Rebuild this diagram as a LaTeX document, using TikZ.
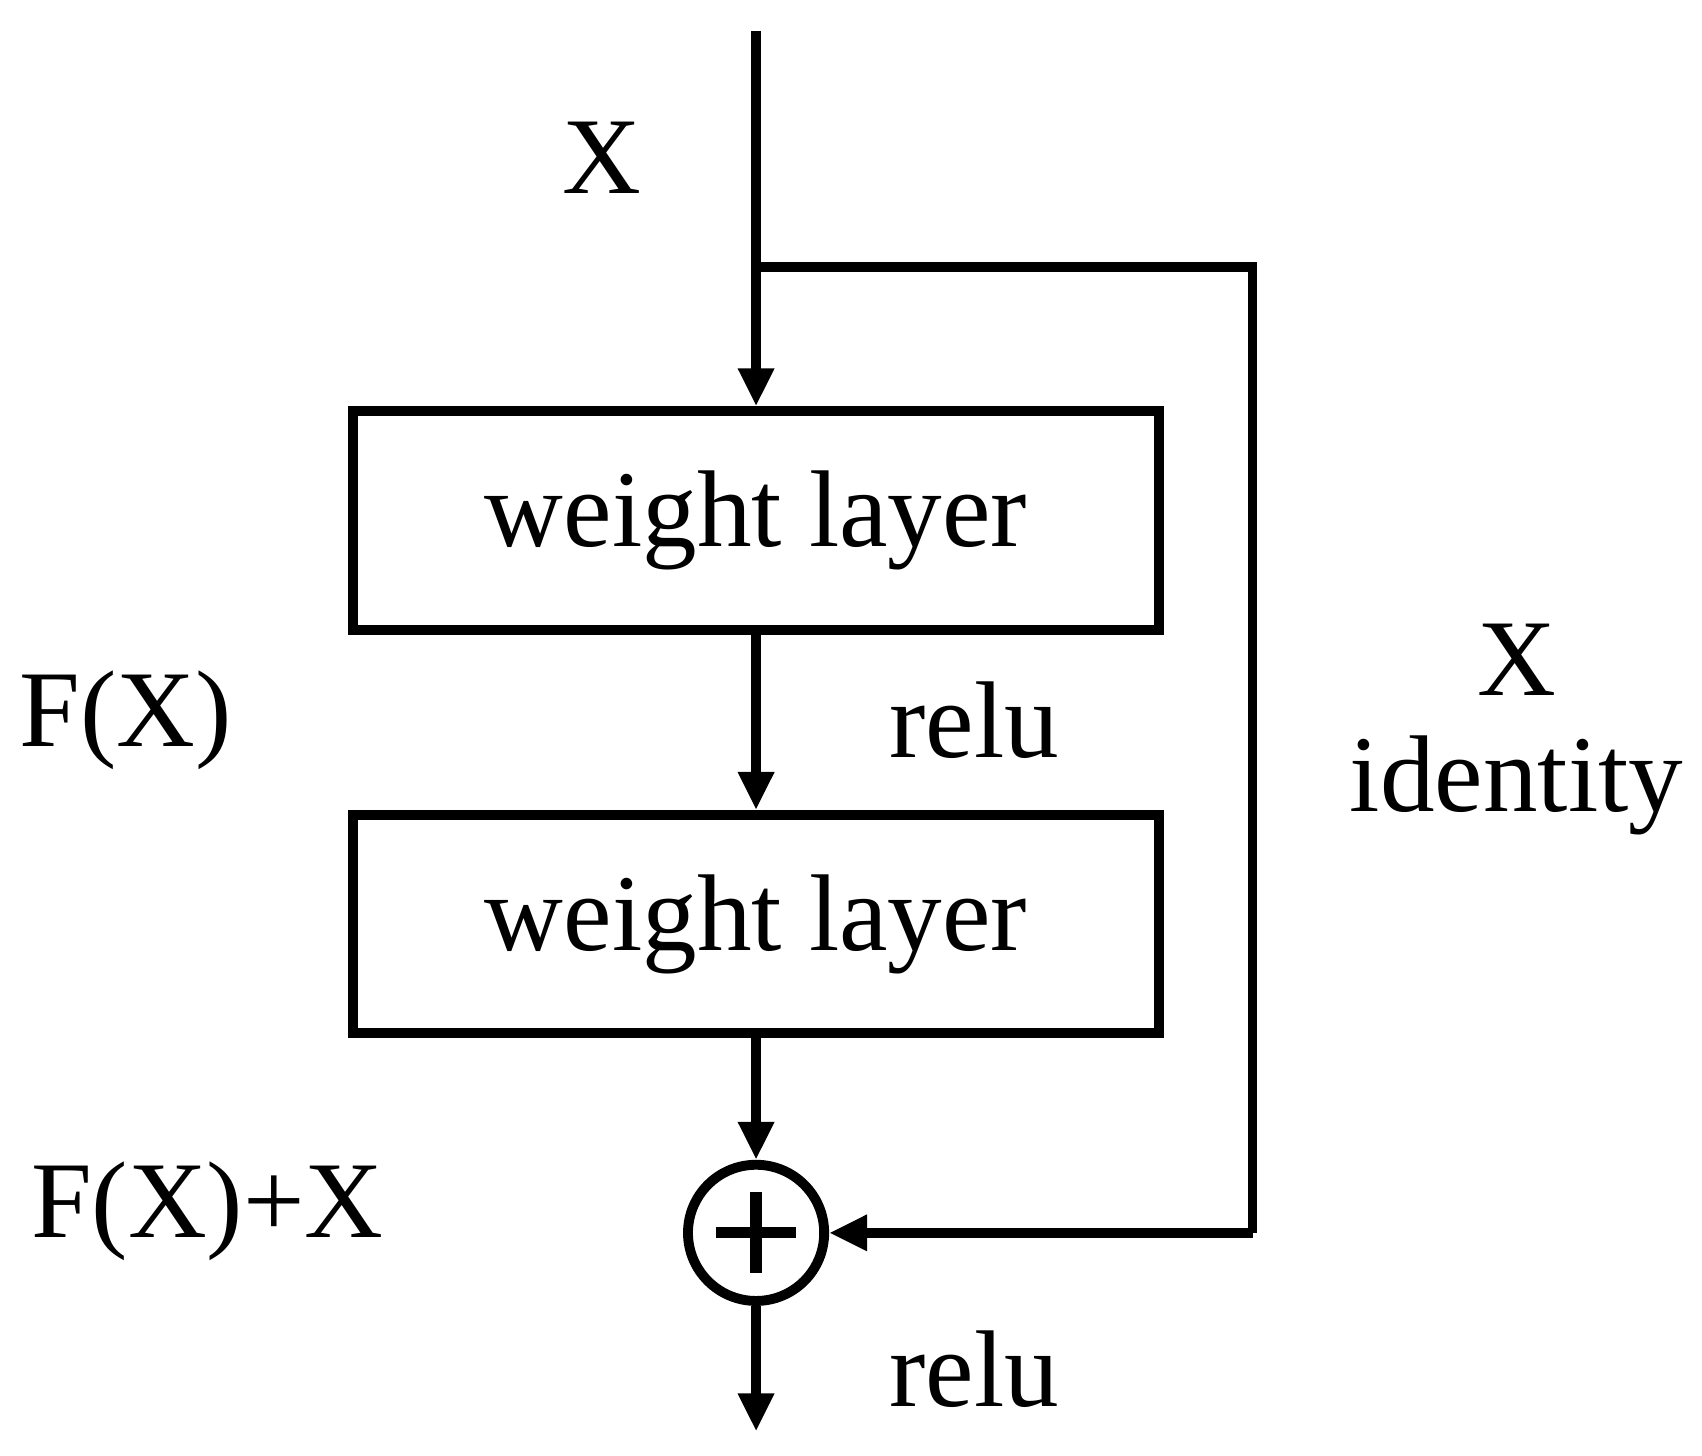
\documentclass[tikz,border=0pt]{standalone}
\usepackage{fontspec}
\setmainfont{Liberation Serif}
\usetikzlibrary{arrows.meta}
\tikzset{
  layer/.style={rectangle,draw,line width=2.8pt,minimum width=8.05cm,minimum height=2.18cm,font=\fontsize{31}{36}\selectfont},
  lbl/.style={font=\fontsize{31}{36}\selectfont},
  flow/.style={line width=2.8pt,-{Triangle[length=0.38cm,width=0.34cm]}}
}
\begin{document}
\begin{tikzpicture}[x=0.0109cm,y=-0.0109cm]
\useasboundingbox (0,0) rectangle (1560,1334);
\path (693,28) coordinate (top);
\path (693,245) coordinate (split);
\path (1148,245) coordinate (rt);
\path (1148,1130) coordinate (rb);
\path (693,477) node[layer] (W1) {weight layer};
\path (693,847) node[layer] (W2) {weight layer};
\path (693,1130) node[circle,draw,line width=2.8pt,minimum size=1.36cm,inner sep=0pt] (add) {};
\draw[line width=3.2pt] (add.center) ++(-37,0) -- ++(74,0);
\draw[line width=3.2pt] (add.center) ++(0,-37) -- ++(0,74);
\path (693,1312) coordinate (out);

\draw[flow] (top) -- (W1.north);
\draw[line width=2.8pt,line join=miter] (split) -- (rt) -- (rb);
\draw[flow] (rb) -- (add.east);
\draw[flow] (W1.south) -- (W2.north);
\draw[flow] (W2.south) -- (add.north);
\draw[flow] (add.south) -- (out);

\path (552,145) node[lbl] (x) {X};
\path (115,660) node[lbl] (fx) {F(X)};
\path (190,1110) node[lbl] (fxx) {F(X)+X};
\path (893,660) node[lbl] (relu1) {relu};
\path (893,1255) node[lbl] (relu2) {relu};
\path (1390,605) node[lbl] (xid) {X};
\path (1390,720) node[lbl] (id) {identity};
\end{tikzpicture}
\end{document}
